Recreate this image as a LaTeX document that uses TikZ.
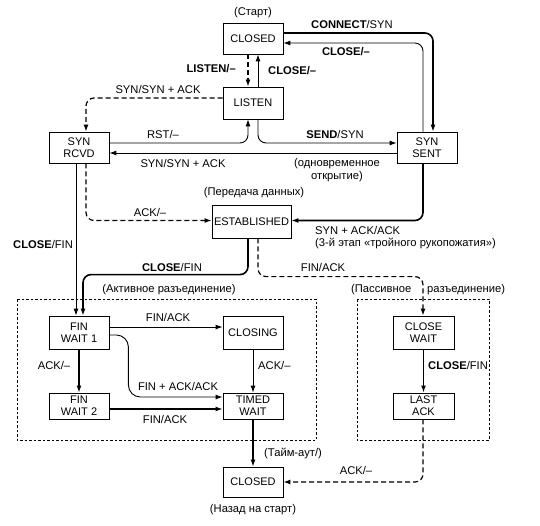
\documentclass[tikz,border=0pt]{standalone}
\usepackage{fontspec}
\setmainfont{Liberation Sans}
\usetikzlibrary{arrows.meta,calc}
\begin{document}
\begin{tikzpicture}[x=1pt,y=-1pt,
  st/.style={draw,line width=0.8pt,minimum width=60pt,minimum height=31pt,inner sep=1pt,align=center,font=\fontsize{11}{12}\selectfont},
  lab/.style={font=\fontsize{11.2}{13.5}\selectfont,inner sep=0pt},
  tip/.style={-{Latex[length=7pt,width=5pt]}},
  thin arr/.style={tip,line width=0.9pt,rounded corners=8pt},
  thick arr/.style={tip,line width=1.6pt,rounded corners=8pt},
  dash arr/.style={tip,line width=1.2pt,dash pattern=on 5pt off 3pt,rounded corners=8pt},
  grp/.style={draw,line width=0.6pt,dash pattern=on 2.5pt off 2pt}]
\useasboundingbox (0,0) rectangle (540,525);
% groups
\draw[grp] (17,299) rectangle (316,440);
\draw[grp] (357,299) rectangle (489,440);
% states
\node[st] (closedA) at (253,38.5) {CLOSED};
\node[st,minimum height=32pt] (listen) at (253,103) {LISTEN};
\node[st] (synrcvd) at (79,147.5) {SYN\\RCVD};
\node[st] (synsent) at (427,147.5) {SYN\\SENT};
\node[st,minimum width=79pt,minimum height=33pt] (estab) at (251.5,221.5) {ESTABLISHED};
\node[st,minimum height=33pt] (fw1) at (79,332.5) {FIN\\WAIT 1};
\node[st,minimum height=33pt] (closing) at (253,332.5) {CLOSING};
\node[st,minimum width=61pt,minimum height=33pt] (closewait) at (423.5,332.5) {CLOSE\\WAIT};
\node[st,minimum height=26pt] (fw2) at (79,406) {FIN\\WAIT 2};
\node[st,minimum height=26pt] (timed) at (253,406) {TIMED\\WAIT};
\node[st,minimum width=61pt,minimum height=26pt] (lastack) at (423.5,406) {LAST\\ACK};
\node[st,minimum height=30pt] (closedB) at (253,482) {CLOSED};
% connectors
\draw[thick arr] ($(closedA.east)+(0,-5.5)$) -| ($(synsent.north)+(6,0)$);
\draw[thin arr] ($(synsent.north)+(-4,0)$) |- ($(closedA.east)+(0,4.5)$);
\draw[dash arr] ($(closedA.south)+(-5,0)$) -- ($(listen.north)+(-5,0)$);
\draw[thin arr] ($(listen.north)+(5,0)$) -- ($(closedA.south)+(5,0)$);
\draw[dash arr] ($(listen.west)+(0,-5)$) -| ($(synrcvd.north)+(7,0)$);
\draw[thin arr] ($(synrcvd.east)+(0,-4.5)$) -| ($(listen.south)+(-5,0)$);
\draw[thin arr] ($(listen.south)+(5,0)$) |- ($(synsent.west)+(0,-4.5)$);
\draw[thin arr] ($(synsent.west)+(0,5.5)$) -- ($(synrcvd.east)+(0,5.5)$);
\draw[dash arr] ($(synrcvd.south)+(7,0)$) |- ($(estab.west)+(0,-1)$);
\draw[thick arr] ($(synsent.south)+(-4,0)$) |- ($(estab.east)+(0,-1)$);
\draw[thin arr] ($(synrcvd.south)+(-3,0)$) -- ($(fw1.north)+(-3,0)$);
\draw[thick arr] ($(estab.south)+(-3.5,0)$) |- ($(fw1.north)+(4,-41)$) -- ($(fw1.north)+(4,0)$);
\draw[dash arr] ($(estab.south)+(6.5,0)$) |- ($(closewait.north)+(-0.5,-39)$) -- ($(closewait.north)+(-0.5,0)$);
\draw[thin arr] ($(fw1.east)+(0,-5.5)$) -- ($(closing.west)+(0,-5.5)$);
\coordinate (k1) at ($(fw1.east)+(19,2.5)$);
\draw[thin arr,rounded corners=12pt] ($(fw1.east)+(0,2.5)$) -- (k1) |- ($(timed.west)+(0,-9)$);
\draw[thick arr] (fw1.south) -- (fw2.north);
\draw[thin arr] (closing.south) -- (timed.north);
\draw[thick arr] ($(fw2.east)+(0,3)$) -- ($(timed.west)+(0,3)$);
\draw[thick arr] (timed.south) -- (closedB.north);
\draw[thick arr] (closewait.south) -- (lastack.north);
\draw[dash arr] ($(lastack.south)+(-0.5,0)$) |- (closedB.east);
% labels
\node[lab] (t1) at (253,13) {(Старт)};
\node[lab] (t2) at (352,24) {\textbf{CONNECT}/SYN};
\node[lab] (t3) at (346,52) {\textbf{CLOSE/–}};
\node[lab,anchor=east] (t4) at (236,69) {\textbf{LISTEN/–}};
\node[lab,anchor=west] (t5) at (268,71) {\textbf{CLOSE/–}};
\node[lab] (t6) at (158,89) {SYN/SYN + ACK};
\node[lab] (t7) at (163,134) {RST/–};
\node[lab] (t8) at (335,134) {\textbf{SEND}/SYN};
\node[lab] (t9) at (183,163) {SYN/SYN + ACK};
\node[lab,align=center] (t10) at (337,170) {(одновременное\\открытие)};
\node[lab] (t11) at (254,193) {(Передача данных)};
\node[lab] (t12) at (150,212) {ACK/–};
\node[lab,anchor=west] (t13) at (315,230) {SYN + ACK/ACK};
\node[lab,anchor=west] (t14) at (315,244) {(3-й этап «тройного рукопожатия»)};
\node[lab,anchor=west] (t15) at (13,244) {\textbf{CLOSE}/FIN};
\node[lab] (t16) at (172,267) {\textbf{CLOSE}/FIN};
\node[lab] (t17) at (323,267) {FIN/ACK};
\node[lab] (t18) at (169,290) {(Активное разъединение)};
\node[lab,anchor=west] (t19) at (351,290) {(Пассивное};
\node[lab,anchor=west] (t20) at (427,290) {разъединение)};
\node[lab] (t21) at (168,317) {FIN/ACK};
\node[lab] (t22) at (54,365) {ACK/–};
\node[lab,anchor=west] (t23) at (258,365) {ACK/–};
\node[lab,anchor=west] (t24) at (428,365) {\textbf{CLOSE}/FIN};
\node[lab] (t25) at (178,386) {FIN + ACK/ACK};
\node[lab] (t26) at (165,419) {FIN/ACK};
\node[lab,anchor=west] (t27) at (264,453) {(Тайм-аут/)};
\node[lab] (t28) at (356,470) {ACK/–};
\node[lab] (t29) at (253,510) {(Назад на старт)};
\end{tikzpicture}
\end{document}
